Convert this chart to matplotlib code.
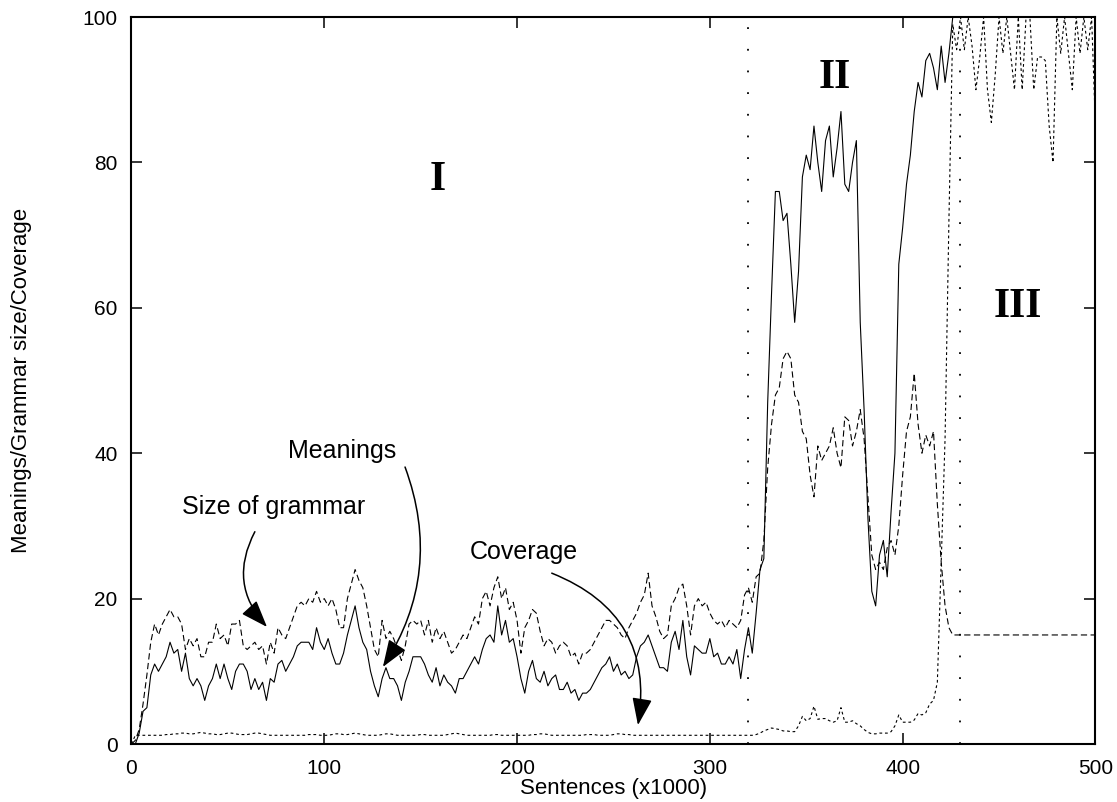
import numpy as np
import matplotlib
matplotlib.use("Agg")
import matplotlib.pyplot as plt

plt.rcParams['font.family'] = ['Liberation Sans', 'DejaVu Sans']
plt.rcParams['lines.scale_dashes'] = False

# sentences (x1000), sampled every 2000 sentences up to the end of phase II
sentences = np.arange(0, 428, 2)

meanings = [
    0, 0, 1.5, 4.5, 5, 9.5, 11, 10, 11, 12, 14, 12.5, 13, 10, 12.5, 9, 8, 9, 8, 6,
    8, 9, 11, 9, 11, 9, 7.5, 10, 11, 11, 10, 7.5, 9, 7.5, 8.5, 6, 9, 8.5, 11, 11.5,
    10, 11, 12, 13.5, 14, 14, 14, 13, 16, 14, 13, 14.5, 12.5, 11, 11, 12.5, 15, 17, 19, 16,
    14, 13, 10, 8, 6.5, 9, 10.5, 9, 9, 8, 6, 8.5, 10, 12, 12, 12, 11, 9.5, 8.5, 10.5,
    8, 9.5, 8.5, 8, 7, 9, 9, 10, 11, 12, 11, 13, 14.5, 15, 14, 19, 15, 17, 14, 14.5,
    12, 9, 7, 10, 11.5, 9, 8.5, 10, 8, 9, 9.5, 7.5, 7.5, 8.5, 7, 7.5, 6, 7, 7, 7.5,
    8.5, 9.5, 10.5, 11, 12, 10, 11, 9.5, 10, 9, 9.5, 12, 13.5, 14, 15, 13.5, 12, 10.5, 10.5, 10,
    14, 15.5, 13, 17, 12, 9.5, 13.5, 13, 12.5, 12.5, 14.5, 12, 12.5, 11, 11, 12, 11, 13, 9, 13,
    16, 12.5, 18, 24, 25.5, 47, 62, 76, 76, 72, 73, 66, 58, 65, 78, 81, 79, 85, 80, 76,
    83, 85, 78, 82, 87, 77, 76, 80, 83, 58, 46, 31, 21, 19, 26, 28, 23, 32, 40, 66,
    71, 77, 81, 87, 91, 89, 94, 95, 93, 90, 96, 91, 95, 100,
]

grammar = [
    0, 0.5, 2, 5.5, 9.5, 14, 16.5, 15, 16.5, 17.5, 18.5, 17.5, 17.5, 16.5, 13, 14.5, 13.5, 14.5, 12, 12,
    14, 14, 16.5, 14.5, 15, 13.5, 16.5, 16.5, 17, 13.5, 13, 13.5, 14, 13, 13.5, 11, 14, 12.5, 16, 15,
    14.5, 16, 17.5, 19, 19.5, 19, 20, 19.5, 21, 19.5, 20, 19, 20, 18.5, 16, 16, 20, 22, 24, 22.5,
    21.5, 19, 16, 13, 12, 17, 14.5, 15.5, 14.5, 13, 11.5, 13.5, 16.5, 17, 16.5, 17, 15, 17, 14, 16,
    14.5, 15.5, 14, 12.5, 13, 14, 15, 14.5, 16, 17.5, 16.5, 20, 21, 19, 21.5, 23, 20, 21.5, 18.5, 19.5,
    17, 12.5, 16, 17, 18.5, 18, 15.5, 13.5, 14.5, 14, 12.5, 13.5, 14, 13.5, 12, 12.5, 11, 12.5, 12.5, 13,
    14, 15, 16, 17, 17, 16.5, 16, 15, 14.5, 16, 17, 18, 19.5, 20.5, 23.5, 19, 17.5, 15.5, 14.5, 15,
    19, 20, 21.5, 22, 19, 15, 19, 20, 19, 19.5, 18, 17, 16.5, 17, 16, 17, 16.5, 16, 17, 20.5,
    21.5, 19.5, 23, 23.5, 28, 38, 44, 48, 49, 53, 54, 53, 48, 47, 43, 42, 37, 34, 41, 39,
    40, 41, 43.5, 40, 38, 45, 44.5, 41, 43, 46, 42, 34, 26, 24, 25, 24, 27, 28, 26, 30,
    37, 43, 45, 51, 44, 40, 42.5, 41, 43, 33, 25, 19, 16, 15,
]

# phase III: meanings saturate, grammar stays flat
end_x = 500
meanings_end = 100
grammar_end = 15

# coverage sampled every 2000 sentences over the whole run
coverage_x = np.arange(0, 502, 2)
coverage = [
    0, 1.2, 1.2, 1.2, 1.2, 1.2, 1.2, 1.2, 1.2, 1.3, 1.3, 1.4, 1.4, 1.5, 1.5, 1.4, 1.4, 1.5, 1.6, 1.5,
    1.4, 1.4, 1.3, 1.3, 1.4, 1.5, 1.5, 1.4, 1.3, 1.3, 1.3, 1.4, 1.5, 1.5, 1.4, 1.3, 1.2, 1.2, 1.2, 1.2,
    1.2, 1.2, 1.2, 1.2, 1.2, 1.2, 1.3, 1.3, 1.3, 1.2, 1.2, 1.2, 1.3, 1.4, 1.4, 1.3, 1.3, 1.4, 1.5, 1.4,
    1.3, 1.2, 1.2, 1.2, 1.2, 1.3, 1.4, 1.4, 1.3, 1.2, 1.2, 1.2, 1.2, 1.2, 1.2, 1.3, 1.3, 1.2, 1.2, 1.2,
    1.2, 1.2, 1.3, 1.4, 1.5, 1.4, 1.3, 1.2, 1.2, 1.2, 1.2, 1.2, 1.2, 1.2, 1.3, 1.3, 1.2, 1.2, 1.2, 1.2,
    1.2, 1.2, 1.2, 1.2, 1.3, 1.3, 1.4, 1.4, 1.3, 1.2, 1.2, 1.2, 1.2, 1.2, 1.2, 1.2, 1.2, 1.2, 1.3, 1.3,
    1.3, 1.2, 1.2, 1.2, 1.2, 1.3, 1.4, 1.4, 1.3, 1.3, 1.2, 1.2, 1.2, 1.2, 1.2, 1.2, 1.2, 1.2, 1.2, 1.2,
    1.2, 1.2, 1.2, 1.2, 1.2, 1.2, 1.2, 1.2, 1.2, 1.2, 1.2, 1.2, 1.2, 1.2, 1.2, 1.2, 1.2, 1.2, 1.2, 1.2,
    1.2, 1.2, 1.3, 1.5, 1.8, 2, 2.2, 2.1, 2, 1.8, 1.8, 1.7, 1.7, 2.5, 3.8, 3.2, 3.5, 5.2, 3.4, 3.5, 3.5,
    3.2, 3, 3.2, 5, 3, 3, 3.2, 2.8, 2.5, 2, 1.6, 1.4, 1.4, 1.5, 1.5, 1.5, 1.7, 2.5, 4, 3,
    3, 3, 3.3, 4.2, 4, 4.3, 5.5, 6, 8.5, 25, 42, 72, 99, 95.5, 100, 95.5, 100, 96, 90, 94.5,
    100, 90, 85.5, 92, 100, 95, 100, 95, 90, 100, 90, 100, 100, 90, 94.5, 94.5, 94, 85, 80, 100,
    95, 100, 95, 90, 100, 95, 100, 95.5, 100, 85,
]

phase_bounds = [320, 430]
phase_names = ['I', 'II', 'III']
phase_pos = [(158.7, 77.6), (364.9, 91.6), (459.8, 60.1)]

fig = plt.figure(figsize=(11.17, 8.02), dpi=100)
ax = fig.add_axes([0.1177, 0.0723, 0.8630, 0.9065])

mx = np.append(sentences, end_x)
my = np.append(meanings, meanings_end)
gy = np.append(grammar, grammar_end)

ax.plot(mx, my, color='black', lw=0.8)
ax.plot(mx, gy, color='black', lw=0.8, dashes=(4.5, 2.5))
ax.plot(coverage_x, coverage, color='black', lw=0.8, dashes=(2, 2))

for b in phase_bounds:
    ax.axvline(b, color='black', lw=1.3, dashes=(1.3, 14.3))

for name, (px, py) in zip(phase_names, phase_pos):
    ax.text(px, py, name, ha='center', va='center', fontsize=30, fontweight='bold',
            family=['Liberation Serif', 'DejaVu Serif'])

# annotations with curved arrows
arrow = '-|>,head_length=0.6,head_width=0.22'
ax.text(109.2, 40.3, 'Meanings', ha='center', va='center', fontsize=18)
ax.annotate('', xy=(130.4, 10.6), xytext=(141.9, 38.1),
            arrowprops=dict(arrowstyle=arrow, connectionstyle='arc3,rad=-0.25',
                            color='black', lw=1.1, mutation_scale=28, shrinkA=0, shrinkB=0))
ax.text(73.9, 32.6, 'Size of grammar', ha='center', va='center', fontsize=18)
ax.annotate('', xy=(70.3, 16.1), xytext=(64.0, 29.2),
            arrowprops=dict(arrowstyle=arrow, connectionstyle='arc3,rad=0.35',
                            color='black', lw=1.1, mutation_scale=28, shrinkA=0, shrinkB=0))
ax.text(203.6, 26.4, 'Coverage', ha='center', va='center', fontsize=18)
ax.annotate('', xy=(262.7, 2.6), xytext=(218.0, 23.5),
            arrowprops=dict(arrowstyle=arrow, connectionstyle='arc3,rad=-0.4',
                            color='black', lw=1.1, mutation_scale=28, shrinkA=0, shrinkB=0))

ax.set_xlim(0, 500)
ax.set_ylim(0, 100)
ax.set_xticks([0, 100, 200, 300, 400, 500])
ax.set_yticks([0, 20, 40, 60, 80, 100])
ax.tick_params(direction='in', length=8, width=1.1, top=True, right=True,
               labelsize=15)
ax.tick_params(axis='x', pad=11)
ax.tick_params(axis='y', pad=10)
for s in ax.spines.values():
    s.set_linewidth(1.5)

ax.set_xlabel('Sentences (x1000)', fontsize=16)
ax.xaxis.set_label_coords(0.5, -0.047)
ax.set_ylabel('Meanings/Grammar size/Coverage', fontsize=16)
ax.yaxis.set_label_coords(-0.103, 0.5)

fig.savefig('out.png', dpi=100)
